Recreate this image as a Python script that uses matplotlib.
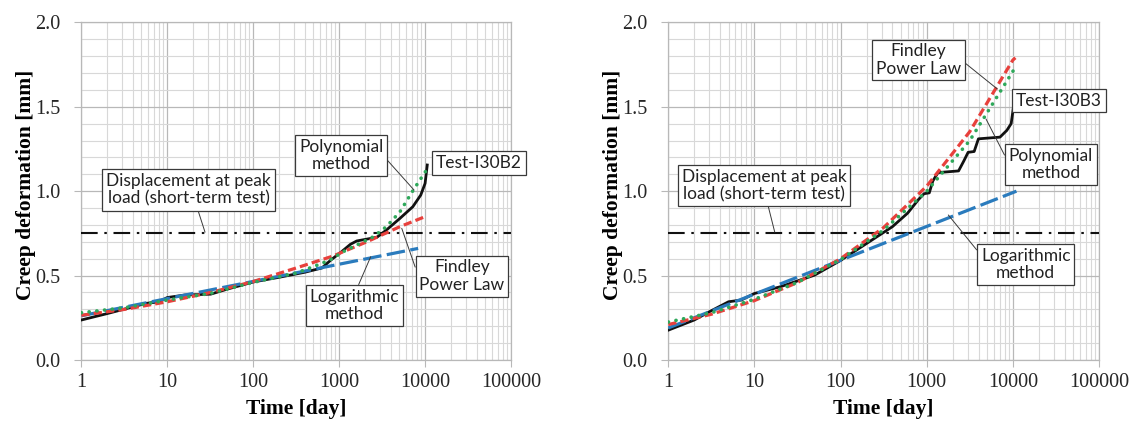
import numpy as np
import matplotlib
matplotlib.use("Agg")
import matplotlib.pyplot as plt
from matplotlib.ticker import FixedLocator, FuncFormatter, MultipleLocator, NullFormatter

# ---- dati ----
PEAK_DISP = 0.755                     # displacement at peak load (mm)

# Test-I30B2 (pannello sinistro)
b2_t = [1, 2, 4, 5.6, 8, 10, 16, 32, 50, 100, 200, 400, 630, 800, 1070, 1350,
        1600, 2750, 3550, 5100, 7200, 8900, 10000, 10600]
b2_test = [0.237, 0.275, 0.315, 0.335, 0.345, 0.37, 0.385, 0.39, 0.42, 0.462, 0.49,
           0.52, 0.545, 0.592, 0.642, 0.685, 0.705, 0.727, 0.77, 0.839, 0.908,
           0.977, 1.046, 1.155]
b2_poly_t = [1, 3.2, 10, 32, 100, 316, 500, 780, 1120, 1740, 2500, 3550, 5100, 7300, 10250]
b2_poly = [0.28, 0.31, 0.355, 0.395, 0.46, 0.515, 0.553, 0.592, 0.642, 0.69, 0.73,
           0.79, 0.878, 1.007, 1.121]
b2_findley_t = [1, 3.2, 10, 32, 100, 316, 850, 2100, 5100, 10000]
b2_findley = [0.265, 0.30, 0.345, 0.40, 0.465, 0.545, 0.616, 0.70, 0.79, 0.849]
b2_log_t = [1, 8300]
b2_log = [0.262, 0.661]

# Test-I30B3 (pannello destro)
b3_t = [1, 2, 3, 5, 7, 10, 20, 50, 100, 200, 400, 600, 800, 930, 1070, 1175, 1350,
        2340, 2700, 3020, 3550, 3980, 7080, 8500, 9550, 10230]
b3_test = [0.177, 0.237, 0.286, 0.345, 0.355, 0.394, 0.434, 0.503, 0.59, 0.69, 0.79,
           0.87, 0.95, 0.985, 0.99, 1.06, 1.11, 1.12, 1.18, 1.23, 1.235, 1.31, 1.32,
           1.36, 1.40, 1.51]
b3_fit_t = [1, 3.16, 10, 31.6, 100, 316, 1000, 3160, 10000, 10700]
b3_poly = [0.225, 0.28, 0.36, 0.46, 0.595, 0.77, 1.0, 1.30, 1.71, 1.74]
b3_findley = [0.21, 0.271, 0.352, 0.459, 0.60, 0.785, 1.03, 1.353, 1.777, 1.79]
b3_log_t = [1, 11000]
b3_log = [0.19, 1.0]

x_ticks = [1, 10, 100, 1000, 10000, 100000]

RED, GREEN, BLUE = "#e8403c", "#2ea85a", "#2a7bbd"
SERIF = "Liberation Serif"
SANS = "Lato"


def box(ax, txt, xy_text, xy=None, relpos=(0.5, 0.5)):
    kw = dict(fontsize=12.5, family=SANS, ha="center", va="center", color="#222222",
              linespacing=1.1, zorder=10,
              bbox=dict(boxstyle="square,pad=0.22", fc="white", ec="#3a3a3a", lw=0.9))
    if xy is None:
        ax.text(*xy_text, txt, **kw)
    else:
        ax.annotate(txt, xy=xy, xytext=xy_text,
                    arrowprops=dict(arrowstyle="-", color="#3a3a3a", lw=0.7,
                                    shrinkA=0, shrinkB=0, relpos=relpos), **kw)


def panel(ax, t, test, pt, poly, ft, fin, lt, lg):
    ax.set_xscale("log")
    ax.set_xlim(1, 100000); ax.set_ylim(0, 2.0)
    ax.plot(t, test, color="#111111", lw=2.0, zorder=4)
    ax.plot(lt, lg, color=BLUE, lw=2.3, dashes=(5.8, 1.7), zorder=5)
    ax.plot(ft, fin, color=RED, lw=2.3, dashes=(2.6, 1.3), zorder=6)
    ax.plot(pt, poly, color=GREEN, lw=2.6, dashes=(0.05, 2.1), dash_capstyle="round", zorder=7)
    ax.axhline(PEAK_DISP, color="#111111", lw=1.5, dashes=(8, 3.2, 1.2, 3.2), zorder=3)

    ax.xaxis.set_major_locator(FixedLocator(x_ticks))
    ax.xaxis.set_major_formatter(FuncFormatter(lambda v, p: f"{v:.0f}"))
    ax.xaxis.set_minor_locator(FixedLocator([m * 10 ** d for d in range(5) for m in range(2, 10)]))
    ax.xaxis.set_minor_formatter(NullFormatter())
    ax.yaxis.set_major_locator(MultipleLocator(0.5))
    ax.yaxis.set_major_formatter(FuncFormatter(lambda v, p: f"{v:.1f}"))
    ax.yaxis.set_minor_locator(MultipleLocator(0.1))
    ax.grid(which="major", color="#b8b8b8", lw=0.9)
    ax.grid(which="minor", color="#d8d8d8", lw=0.8)
    ax.set_axisbelow(True)
    for s in ax.spines.values():
        s.set_color("#b8b8b8"); s.set_linewidth(0.9)
    ax.tick_params(which="major", length=5, color="#b8b8b8", labelsize=14.5,
                   labelcolor="#262626", pad=4)
    ax.tick_params(which="minor", length=0)
    ax.tick_params(axis="y", pad=10)
    for lab in ax.get_xticklabels() + ax.get_yticklabels():
        lab.set_family(SERIF)
    ax.set_xlabel("Time [day]", family=SERIF, fontsize=15.5, fontweight="bold")
    ax.set_ylabel("Creep deformation [mm]", family=SERIF, fontsize=15.5, fontweight="bold")
    ax.xaxis.set_label_coords(0.5, -0.115)
    ax.yaxis.set_label_coords(-0.105, 0.52)


fig = plt.figure(figsize=(11.44, 4.23), dpi=100)
ax1 = fig.add_axes([0.0711, 0.1489, 0.3756, 0.7983])
ax2 = fig.add_axes([0.5842, 0.1489, 0.3765, 0.7983])

panel(ax1, b2_t, b2_test, b2_poly_t, b2_poly, b2_findley_t, b2_findley, b2_log_t, b2_log)
box(ax1, "Displacement at peak\nload (short-term test)", (17.7, 1.007), (27.5, 0.757), (0.55, 0))
box(ax1, "Polynomial\nmethod", (1052, 1.211), (7430, 1.007), (1, 0.5))
box(ax1, "Test-I30B2", (42400, 1.167))
box(ax1, "Findley\nPower Law", (26900, 0.497), (5350, 0.78), (0, 0.4))
box(ax1, "Logarithmic\nmethod", (1494, 0.323), (2330, 0.612), (0.53, 1))

panel(ax2, b3_t, b3_test, b3_fit_t, b3_poly, b3_fit_t, b3_findley, b3_log_t, b3_log)
box(ax2, "Findley\nPower Law", (807, 1.777), (6600, 1.605), (1, 0.5))
box(ax2, "Test-I30B3", (34300, 1.536))
box(ax2, "Polynomial\nmethod", (27600, 1.159), (4880, 1.427), (0, 0.53))
box(ax2, "Logarithmic\nmethod", (14100, 0.566), (1780, 0.859), (0, 0.78))
box(ax2, "Displacement at peak\nload (short-term test)", (12.9, 1.032), (17.2, 0.757), (0.52, 0))

fig.savefig("out.png", dpi=100)
